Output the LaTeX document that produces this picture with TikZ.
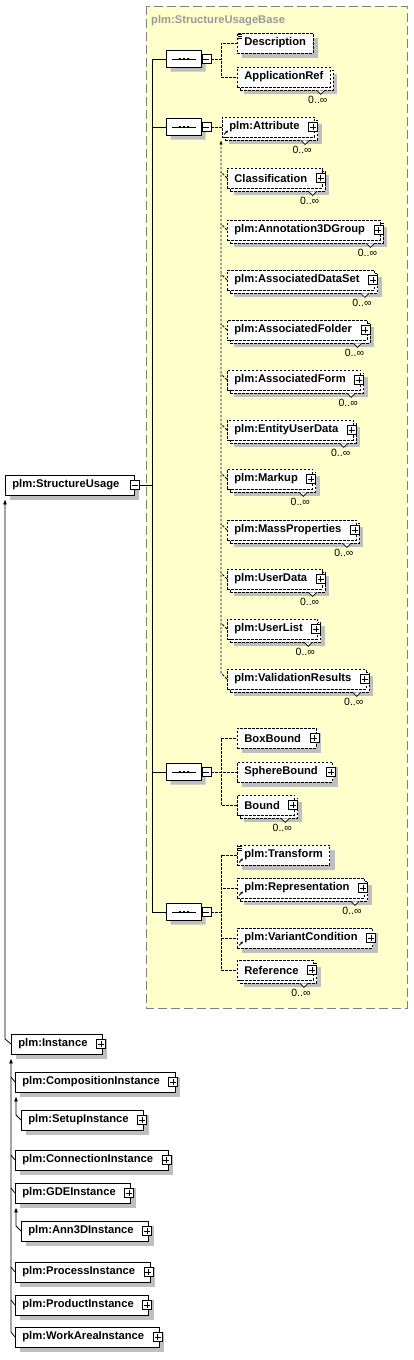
\documentclass[tikz,border=0pt]{standalone}
\usepackage{fontspec}
\setmainfont{Liberation Sans}
\usetikzlibrary{arrows.meta,shapes.misc,shadows}
\definecolor{basebg}{RGB}{255,255,204}
\newcommand{\elfont}{\fontsize{11.2}{13}\selectfont\bfseries}
\newcommand{\cardfont}{\fontsize{10.5}{12}\selectfont}
\newcommand{\xnm}[1]{#1\kern8pt}

\begin{document}
\begin{tikzpicture}[
   x=1pt, y=-1pt,
   elbox/.style={draw, fill=white, font=\elfont, inner xsep=7pt, inner ysep=0pt,
      minimum height=20pt, anchor=west, line width=.8pt},
   opt/.style={elbox, dash pattern=on 2.5pt off 1.5pt},
   single/.style={opt, drop shadow={shadow xshift=5pt, shadow yshift=-5pt,
      opacity=1, fill=black!25}},
   multi/.style={opt, drop shadow={shadow xshift=7pt, shadow yshift=-7pt,
      opacity=1, fill=black!25},
      general shadow={shadow xshift=3pt, shadow yshift=-3pt, draw=black,
      fill=white, dash pattern=on 2.5pt off 1.5pt, line width=.8pt}},
   typebox/.style={elbox, drop shadow={shadow xshift=5pt, shadow yshift=-5pt,
      opacity=1, fill=black!25}},
   sq/.style={draw, solid, fill=white, minimum size=9pt, inner sep=0pt,
      line width=.7pt},
   plusbox/.style={sq, path picture={
      \draw[solid, line width=.7pt] ([xshift=-3pt]path picture bounding box.center)
         -- ([xshift=3pt]path picture bounding box.center)
         ([yshift=-3pt]path picture bounding box.center)
         -- ([yshift=3pt]path picture bounding box.center);}},
   minusbox/.style={sq, path picture={
      \draw[solid, line width=.7pt] ([xshift=-3pt]path picture bounding box.center)
         -- ([xshift=3pt]path picture bounding box.center);}},
   seqbox/.style={chamfered rectangle, chamfered rectangle xsep=4pt,
      chamfered rectangle ysep=4pt, draw, fill=white, minimum width=35pt,
      minimum height=17pt, inner sep=0pt, line width=.8pt,
      drop shadow={shadow xshift=4pt, shadow yshift=-4pt, opacity=1, fill=black!25},
      path picture={
      \draw[solid, line width=.8pt] ([xshift=-12pt]path picture bounding box.center)
         -- ([xshift=12pt]path picture bounding box.center);
      \foreach \d in {-4,0,4}
         \fill[black] ([xshift=\d pt]path picture bounding box.center) +(-1.2,-1.2)
            rectangle +(1.2,1.2);}},
   basebox/.style={fill=basebg, draw=black!50, line width=1pt,
      dash pattern=on 9pt off 4pt},
   basetitle/.style={font=\elfont, text=black!40, inner sep=0pt},
   line/.style={line width=.8pt},
   link/.style={line width=.8pt, dash pattern=on 2.5pt off 1.5pt},
   inh/.style={line, -{Latex[length=5pt,width=4pt]}},
   grpup/.style={link, -{Latex[length=4pt,width=3.5pt]}},
   refarrow/.style={line width=.9pt, -{Latex[length=2.5pt,width=3pt]}},
   notch/.style={fill=white, line width=.7pt},
   card/.style={font=\cardfont, inner sep=0pt, anchor=north}
]
\useasboundingbox (0,0) rectangle (413,1360);
\draw[basebox] (146,6) rectangle (407,1008);
\node[basetitle, anchor=base west] (title) at (151,23.5) {plm:StructureUsageBase};

\node[typebox] (su) at (5,485) {\xnm{plm:StructureUsage}};
\node[minusbox] (sum) at (su.east) {};

\node[seqbox] (seq1) at (184,59) {};
\node[seqbox] (seq2) at (184,127) {};
\node[seqbox] (seq3) at (184,772) {};
\node[seqbox] (seq4) at (184,912) {};
\foreach \s in {seq1,seq2,seq3,seq4}
   \node[minusbox] (\s m) at ([xshift=4.5pt]\s.east) {};

\node[single] (desc) at (237,43) {Description};
\node[multi] (appref) at (237,77) {ApplicationRef};

\node[multi] (attr) at (222,127) {\xnm{plm:Attribute}};
\node[multi] (classif) at (227,178) {\xnm{Classification}};
\node[multi] (annot) at (227,230) {\xnm{plm:Annotation3DGroup}};
\node[multi] (dataset) at (227,280) {\xnm{plm:AssociatedDataSet}};
\node[multi] (folder) at (227,330) {\xnm{plm:AssociatedFolder}};
\node[multi] (form) at (227,380) {\xnm{plm:AssociatedForm}};
\node[multi] (eud) at (227,430) {\xnm{plm:EntityUserData}};
\node[multi] (markup) at (227,479) {\xnm{plm:Markup}};
\node[multi] (mass) at (227,530) {\xnm{plm:MassProperties}};
\node[multi] (udata) at (227,579) {\xnm{plm:UserData}};
\node[multi] (ulist) at (227,629) {\xnm{plm:UserList}};
\node[multi] (valres) at (227,679) {\xnm{plm:ValidationResults}};

\node[single] (boxb) at (237,738) {\xnm{BoxBound}};
\node[single] (sphere) at (237,772) {\xnm{SphereBound}};
\node[multi] (bound) at (237,805) {\xnm{Bound}};

\node[single] (transf) at (237,855) {plm:Transform};
\node[multi] (repr) at (237,888) {\xnm{plm:Representation}};
\node[single] (variant) at (237,938) {\xnm{plm:VariantCondition}};
\node[multi] (refer) at (237,970) {\xnm{Reference}};

\node[typebox] (inst) at (11,1044) {\xnm{plm:Instance}};
\node[typebox] (comp) at (15,1082) {\xnm{plm:CompositionInstance}};
\node[typebox] (setup) at (21,1120) {\xnm{plm:SetupInstance}};
\node[typebox] (conn) at (15,1160) {\xnm{plm:ConnectionInstance}};
\node[typebox] (gde) at (15,1193) {\xnm{plm:GDEInstance}};
\node[typebox] (ann) at (21,1231) {\xnm{plm:Ann3DInstance}};
\node[typebox] (proc) at (15,1272) {\xnm{plm:ProcessInstance}};
\node[typebox] (prod) at (15,1305) {\xnm{plm:ProductInstance}};
\node[typebox] (warea) at (15,1337) {\xnm{plm:WorkAreaInstance}};

\foreach \n in {attr,classif,annot,dataset,folder,form,eud,markup,mass,udata,
      ulist,valres,boxb,sphere,bound,repr,variant,refer,inst,comp,setup,conn,
      gde,ann,proc,prod,warea}
   \node[plusbox] (\n p) at ([xshift=-2pt]\n.east) {};

\foreach \n in {appref,attr,classif,annot,dataset,folder,form,eud,markup,mass,
      udata,ulist,valres,bound,repr,refer} {
   \draw[notch] ([shift={(-14pt,-3pt)}]\n.south east) -- ++(4,4) -- ++(4,-4);
   \node[card] (\n c) at ([shift={(-13pt,-9pt)}]\n.south east) {0..∞};
}

\foreach \n in {attr,transf,repr,variant}
   \draw[refarrow] ([shift={(2pt,3pt)}]\n.south west) -- ++(4,-4);
\foreach \n in {desc,transf}
   \draw[line width=.6pt] ([shift={(1pt,-1.5pt)}]\n.north west) -- ++(4,0)
      ++(-4,2) -- ++(4,0) ++(-4,2) -- ++(4,0);

\draw[line] (seq1.west) -- ++(-14,0) |- (seq4.west);
\draw[line] (seq2.west) -- ++(-14,0);
\draw[line] (seq3.west) -- ++(-14,0);
\draw[line] (sum.east) -- ([xshift=-14pt]sum.east -| seq1.west);

\draw[link] (seq1m.east) -| ([xshift=-16pt]desc.west) -- (desc.west);
\draw[link] (seq1m.east) -| ([xshift=-16pt]appref.west) -- (appref.west);

\draw[link] (seq2m.east) -- (attr.west);
\draw[grpup] (valres.west) -- ++(-6,-6) -- ([shift={(-1pt,-3pt)}]attr.south west);
\foreach \n in {classif,annot,dataset,folder,form,eud,markup,mass,udata,ulist}
   \draw[link] (\n.west) -- ++(-6,-6);

\foreach \n in {boxb,sphere,bound}
   \draw[link] (seq3m.east) -| ([xshift=-16pt]\n.west) -- (\n.west);
\foreach \n in {transf,repr,variant,refer}
   \draw[link] (seq4m.east) -| ([xshift=-16pt]\n.west) -- (\n.west);

\draw[inh] (inst.west) -- ++(-6,-5) -- ([yshift=-4pt]su.south west);
\draw[inh] (warea.west) -- ++(-4,-5) -- ([yshift=-4pt]inst.south west);
\foreach \n in {comp,conn,gde,proc,prod}
   \draw[line] (\n.west) -- ++(-4,-5);
\draw[inh] (setup.west) -- ++(-5,-5) -- ([shift={(1pt,-4pt)}]comp.south west);
\draw[inh] (ann.west) -- ++(-5,-5) -- ([shift={(1pt,-4pt)}]gde.south west);
\end{tikzpicture}
\end{document}
